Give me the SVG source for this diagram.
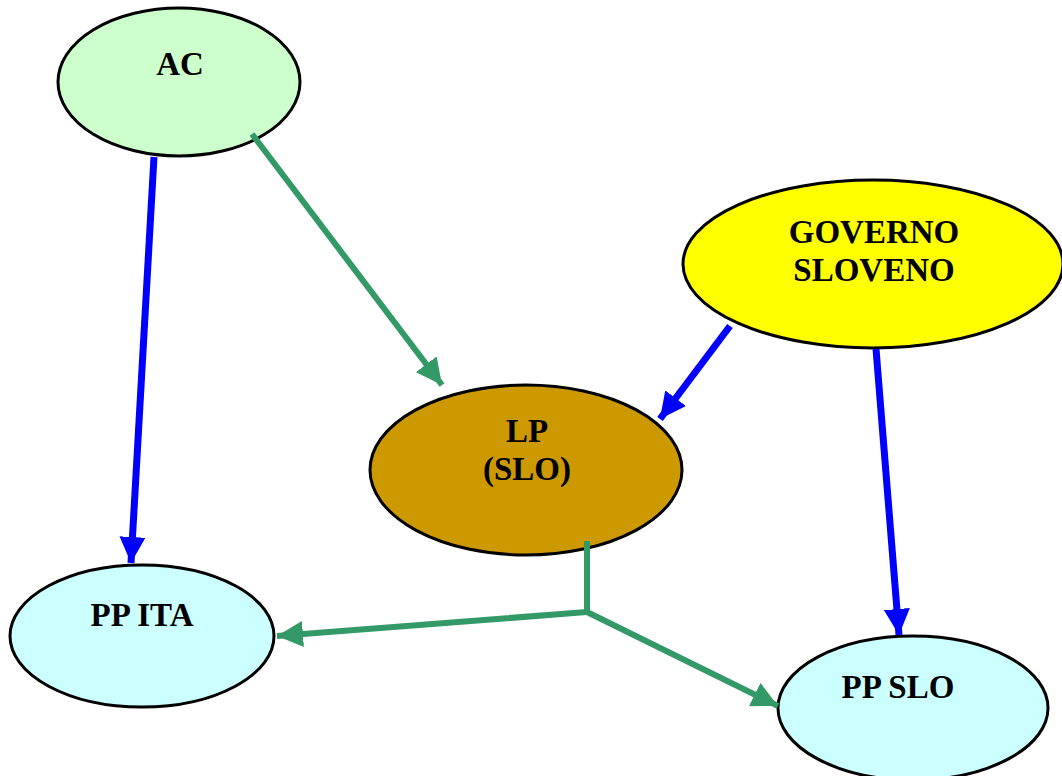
<svg xmlns="http://www.w3.org/2000/svg" width="1062" height="776" viewBox="0 0 1062 776">
<style>
.n{stroke:#000;stroke-width:3}
.t{font-family:"Liberation Serif","Times New Roman",serif;font-weight:bold;font-size:33px;text-anchor:middle;fill:#000}
.g{stroke:#339966;stroke-width:6;fill:none}
.b{stroke:#0000FF;stroke-width:7;fill:none}
</style>
<defs>
<marker id="ag" markerUnits="userSpaceOnUse" markerWidth="30" markerHeight="26" refX="26" refY="13" orient="auto"><path d="M0,0 L26,13 L0,26 z" fill="#339966"/></marker>
<marker id="ab" markerUnits="userSpaceOnUse" markerWidth="30" markerHeight="26" refX="26" refY="13" orient="auto"><path d="M0,0 L26,13 L0,26 z" fill="#0000FF"/></marker>
</defs>
<rect width="1062" height="776" fill="#fff"/>
<g id="AC"><ellipse class="n" cx="179" cy="82" rx="121" ry="74" fill="#CCFFCC"/><text class="t" x="180" y="75">AC</text></g>
<g id="GOV"><ellipse class="n" cx="873" cy="264" rx="190" ry="84" fill="#FFFF00"/><text class="t" x="874" y="243">GOVERNO</text><text class="t" x="874" y="281">SLOVENO</text></g>
<g id="LP"><ellipse class="n" cx="526" cy="470" rx="156" ry="85" fill="#CC9900"/><text class="t" x="527" y="442">LP</text><text class="t" x="527" y="480">(SLO)</text></g>
<g id="PPITA"><ellipse class="n" cx="142" cy="636" rx="132" ry="71" fill="#CCFFFF"/><text class="t" x="142" y="626">PP ITA</text></g>
<g id="PPSLO"><ellipse class="n" cx="913" cy="708" rx="135" ry="72" fill="#CCFFFF"/><text class="t" x="898" y="698">PP SLO</text></g>
<g id="connectors">
<line class="b" x1="154" y1="157" x2="131" y2="563" marker-end="url(#ab)"/>
<line class="g" x1="252" y1="134" x2="442" y2="385" marker-end="url(#ag)"/>
<line class="b" x1="730" y1="326" x2="660" y2="419" marker-end="url(#ab)"/>
<line class="b" x1="876" y1="349" x2="899" y2="635" marker-end="url(#ab)"/>
<polyline class="g" points="587,541 587,612 277,636" marker-end="url(#ag)"/>
<polyline class="g" points="587,612 778,706" marker-end="url(#ag)"/>
</g>
</svg>
